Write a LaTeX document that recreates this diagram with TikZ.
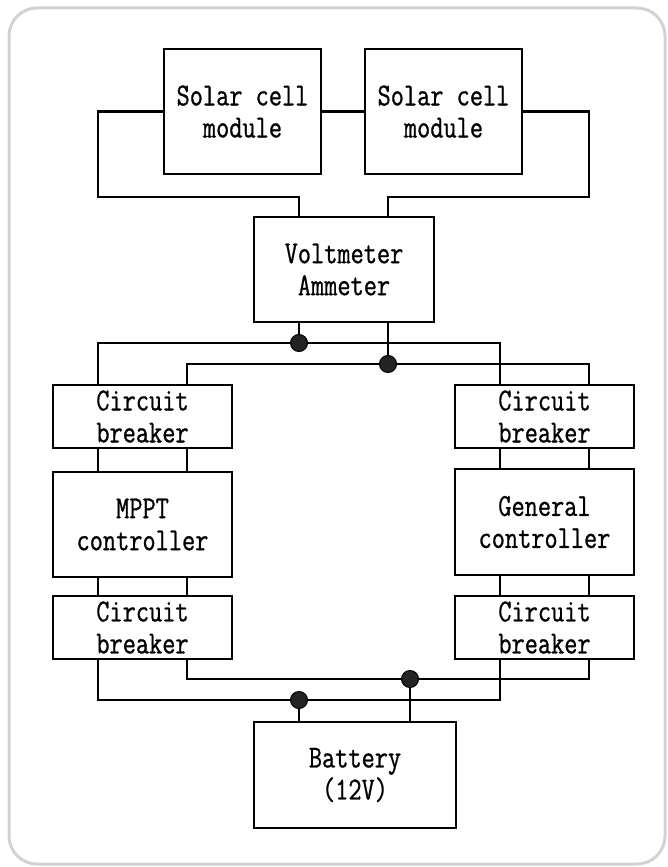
\documentclass[tikz,border=0pt]{standalone}
\usepackage{fontspec}
\setmonofont{Latin Modern Mono}[FakeStretch=0.8, FakeBold=0.8]
\definecolor{framegray}{RGB}{210,210,210}
\definecolor{dotfill}{RGB}{35,35,35}
\begin{document}
\begin{tikzpicture}[x=1pt,y=-1pt,
  box/.style={draw=black, line width=2.7pt, inner sep=0pt, align=center,
    font=\ttfamily\fontsize{32pt}{32pt}\selectfont},
  wire/.style={draw=black, line width=2.7pt},
  jdot/.style={circle, draw=black, fill=dotfill, line width=1pt, minimum size=17pt, inner sep=0pt}]
\useasboundingbox (0,0) rectangle (668,867);
\draw[framegray, line width=3pt, rounded corners=28pt] (9,8) rectangle (665,864);

% boxes
\node[box, minimum width=157pt, minimum height=125pt] (sol1) at (242.5,111.5) {Solar cell\\module};
\node[box, minimum width=157pt, minimum height=125pt] (sol2) at (443.5,111.5) {Solar cell\\module};
\node[box, minimum width=180pt, minimum height=105pt] (vm) at (344,269.5) {Voltmeter\\Ammeter};
\node[box, minimum width=179pt, minimum height=63pt] (cbl1) at (142.5,416.5) {Circuit\\breaker};
\node[box, minimum width=179pt, minimum height=105pt] (mppt) at (142.5,524.5) {MPPT\\controller};
\node[box, minimum width=179pt, minimum height=63pt] (cbl2) at (142.5,627.5) {Circuit\\breaker};
\node[box, minimum width=179pt, minimum height=63pt] (cbr1) at (544.5,416.5) {Circuit\\breaker};
\node[box, minimum width=179pt, minimum height=106pt] (gen) at (544.5,522) {General\\controller};
\node[box, minimum width=179pt, minimum height=63pt] (cbr2) at (544.5,627.5) {Circuit\\breaker};
\node[box, minimum width=202pt, minimum height=106pt] (bat) at (355,775) {Battery\\(12V)};

% junction coordinates
\coordinate (j1) at (299,343);
\coordinate (j2) at (388,364);
\coordinate (j3) at (299,700);
\coordinate (j4) at (410,679);

% solar modules to meter
\draw[wire] (sol1.west) -| (98,197) -| ([xshift=-45pt]vm.north);
\draw[wire] (sol1.east) -- (sol2.west);
\draw[wire] (sol2.east) -| (589,197) -| ([xshift=44pt]vm.north);

% meter to buses
\draw[wire] ([xshift=-45pt]vm.south) -- (j1);
\draw[wire] ([xshift=44pt]vm.south) -- (j2);
\draw[wire] ([xshift=-44.5pt]cbl1.north) |- (j1) -| ([xshift=-44.5pt]cbr1.north);
\draw[wire] ([xshift=44.5pt]cbl1.north) |- (j2) -| ([xshift=44.5pt]cbr1.north);

% columns
\foreach \s in {-44.5,44.5}{
  \draw[wire] ([xshift=\s pt]cbl1.south) -- ([xshift=\s pt]mppt.north);
  \draw[wire] ([xshift=\s pt]mppt.south) -- ([xshift=\s pt]cbl2.north);
  \draw[wire] ([xshift=\s pt]cbr1.south) -- ([xshift=\s pt]gen.north);
  \draw[wire] ([xshift=\s pt]gen.south) -- ([xshift=\s pt]cbr2.north);
}

% bottom buses to battery
\draw[wire] ([xshift=-44.5pt]cbl2.south) |- (j3) -| ([xshift=-44.5pt]cbr2.south);
\draw[wire] ([xshift=44.5pt]cbl2.south) |- (j4) -| ([xshift=44.5pt]cbr2.south);
\draw[wire] (j3) -- ([xshift=-56pt]bat.north);
\draw[wire] (j4) -- ([xshift=55pt]bat.north);

% dots
\node[jdot] (d1) at (j1) {};
\node[jdot] (d2) at (j2) {};
\node[jdot] (d3) at (j3) {};
\node[jdot] (d4) at (j4) {};
\end{tikzpicture}
\end{document}
